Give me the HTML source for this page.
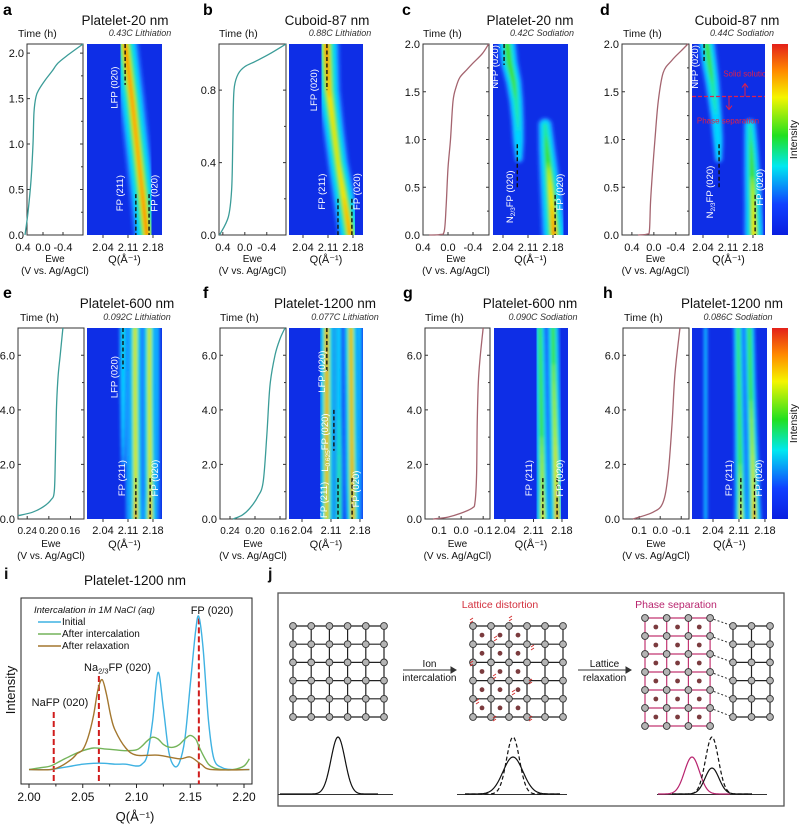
<!DOCTYPE html>
<html><head><meta charset="utf-8"><style>
html,body{margin:0;padding:0;background:#fff;}
svg{display:block;font-family:"Liberation Sans",Arial,sans-serif;}
</style></head><body>
<svg id="fig" width="800" height="824" viewBox="0 0 800 824" xmlns="http://www.w3.org/2000/svg">
<defs>
<filter id="blur" x="-20%" y="-5%" width="140%" height="110%"><feGaussianBlur stdDeviation="1.5"/></filter>
<linearGradient id="jet" x1="0" y1="0" x2="0" y2="1">
<stop offset="0" stop-color="#e3201a"/><stop offset="0.14" stop-color="#ff8a00"/><stop offset="0.28" stop-color="#f5f500"/>
<stop offset="0.48" stop-color="#20e020"/><stop offset="0.64" stop-color="#00e8f0"/><stop offset="0.84" stop-color="#1040ff"/><stop offset="1" stop-color="#0a1ee0"/>
</linearGradient>
</defs>
</svg>
<script>
// ---------- echem data (E in V, t in h) ----------
const aE=[0.36,0.3,0.24,0.2,0.18,0.14,0.08,-0.04,-0.18,-0.3,-0.5,-0.8];
const aT=[0,0.25,0.6,1.0,1.35,1.52,1.6,1.7,1.8,1.89,1.98,2.1];
const bE=[0.46,0.30,0.24,0.22,0.21,0.19,0.12,0.0,-0.2,-0.45,-0.75];
const bT=[0,0.1,0.25,0.5,0.7,0.82,0.89,0.93,0.96,1.0,1.055];
const cE=[0.3,0.13,0.06,0.03,0.0,-0.04,-0.08,-0.13,-0.19,-0.3,-0.4,-0.55,-0.65];
const cT=[0,0.005,0.04,0.3,0.7,1.0,1.4,1.55,1.65,1.73,1.8,1.9,2.0];
const dE=[0.29,0.12,0.08,0.06,0.02,-0.02,-0.08,-0.17,-0.33,-0.5,-0.62];
const dT=[0,0.01,0.05,0.35,0.7,1.0,1.4,1.7,1.83,1.93,2.0];
const eE=[0.257,0.23,0.21,0.196,0.19,0.188,0.186,0.183,0.179,0.174];
const eT=[0.12,0.25,0.45,0.7,1.0,2.2,4.0,5.2,6.0,7.0];
const fE=[0.235,0.22,0.208,0.196,0.187,0.181,0.176,0.168,0.16,0.152];
const fT=[0,0.15,0.4,0.8,1.35,3.1,4.9,6.0,6.6,7.0];
const gE=[0.128,0.06,0.005,-0.05,-0.063,-0.07,-0.073,-0.078,-0.086,-0.1];
const gT=[0,0.07,0.2,0.4,0.62,1.6,3.5,5.0,5.9,7.0];
const hE=[0.13,0.034,-0.013,-0.037,-0.056,-0.07,-0.094];
const hT=[0,0.25,0.6,1.6,3.45,5.3,7.0];
// ---------- heatmap band data (t in h, Q in 1/A, relative amplitude) ----------
const aB1T=[0,0.5,1.0,1.5,2.1], aB1Q=[2.163,2.149,2.135,2.121,2.102], aB1A=[1,0.95,0.93,0.95,1];
const bB1T=[0,0.2,0.4,0.6,0.8,1.0,1.06], bB1Q=[2.172,2.155,2.138,2.125,2.112,2.107,2.106], bB1A=[0.95,0.85,0.72,0.75,0.88,1,1];
const cB1T=[2.0,1.8,1.6,1.4,1.2,1.0,0.8], cB1Q=[2.052,2.058,2.07,2.077,2.081,2.083,2.085], cB1A=[0.6,0.58,0.5,0.4,0.33,0.28,0.14];
const cB2T=[1.15,0.9,0.6,0.3,0], cB2Q=[2.158,2.163,2.17,2.177,2.183], cB2A=[0.35,0.5,0.68,0.85,1];
const dB1T=[2.0,1.8,1.6,1.4,1.2,1.0,0.8], dB1Q=[2.051,2.058,2.066,2.072,2.078,2.082,2.084], dB1A=[0.52,0.5,0.42,0.34,0.28,0.24,0.14];
const dB2T=[1.15,0.9,0.6,0.3,0], dB2Q=[2.172,2.175,2.178,2.181,2.183], dB2A=[0.33,0.46,0.6,0.72,0.85];
const eB1T=[0,1,3,5,7], eB1Q=[2.132,2.132,2.131,2.13,2.13], eB1A=[1,0.85,0.82,0.8,0.8];
const eB2T=[0,1,3,5,7], eB2Q=[2.172,2.172,2.171,2.17,2.17], eB2A=[1,0.85,0.8,0.78,0.78];
const eB3T=[2,4,5.5,7], eB3Q=[2.096,2.096,2.096,2.096], eB3A=[0.1,0.22,0.3,0.32];
const eB4T=[0,7], eB4Q=[2.113,2.113], eB4A=[0.3,0.3];
const eB5T=[0,7], eB5Q=[2.152,2.152], eB5A=[0.32,0.32];
const eB6T=[0,7], eB6Q=[2.19,2.19], eB6A=[0.28,0.28];
const fB1T=[0,1.5,3,5,7], fB1Q=[2.1,2.1,2.1,2.1,2.1], fB1A=[0.9,0.95,1,1,1];
const fB2T=[0,1.5,3,5,7], fB2Q=[2.163,2.161,2.16,2.159,2.158], fB2A=[1,1,0.95,0.95,0.95];
const fB3T=[0,7], fB3Q=[2.118,2.118], fB3A=[0.4,0.4];
const fB4T=[0,2,4,7], fB4Q=[2.13,2.13,2.13,2.13], fB4A=[0.5,0.45,0.3,0.25];
const fB5T=[0,7], fB5Q=[2.178,2.178], fB5A=[0.3,0.3];
const gB1T=[0,1,3,5,7], gB1Q=[2.133,2.132,2.13,2.128,2.126], gB1A=[0.85,0.7,0.6,0.55,0.5];
const gB2T=[0,1,3,5,7], gB2Q=[2.168,2.166,2.163,2.16,2.158], gB2A=[1,0.85,0.7,0.62,0.58];
const hB1T=[0,1,3,5,7], hB1Q=[2.115,2.114,2.112,2.11,2.108], hB1A=[0.8,0.65,0.55,0.5,0.48];
const hB2T=[0,1,3,5,7], hB2Q=[2.151,2.149,2.145,2.141,2.138], hB2A=[1,0.8,0.65,0.58,0.55];
const hB3T=[0,7], hB3Q=[2.02,2.02], hB3A=[0.14,0.14];
// ---------- panel i data ----------
const iQ=[2.00,2.01,2.02,2.03,2.04,2.05,2.06,2.07,2.08,2.09,2.10,2.105,2.11,2.115,2.12,2.125,2.13,2.135,2.14,2.145,2.15,2.155,2.158,2.162,2.167,2.172,2.18,2.19,2.20,2.205];
const iInitial=[8,8,8,9,10,11,11.5,11.5,11,11,10,11,16,35,62,42,18,10,12,25,55,85,93,75,35,14,9,8,8,8];
const iIntercal=[8,9,10,13,16,18.5,20,19.5,19,18.5,19,21,24,26,25,22,20.5,20.5,22,25,27,25,21,16,11,9,8,8,10,14];
const iRelaxQ=[2.00,2.02,2.03,2.04,2.045,2.05,2.055,2.06,2.064,2.068,2.072,2.076,2.08,2.09,2.10,2.12,2.14,2.15,2.16,2.17,2.205];
const iRelax=[8,8,10,14,17,19,26,38,52,58,50,38,30,20,16,16,14,15,11,8,8];
const iRefQ=[2.023,2.065,2.158];
const iRefTop=[40,60,92];
const iXTicks=[2.00,2.05,2.10,2.15,2.20];

const NS='http://www.w3.org/2000/svg';
const svg=document.getElementById('fig');
function E(tag,attrs,parent){const e=document.createElementNS(NS,tag);for(const k in attrs)e.setAttribute(k,attrs[k]);(parent||svg).appendChild(e);return e;}
function T(x,y,s,size,parent,extra){const t=E('text',Object.assign({x:x,y:y,'font-size':size,fill:'#111'},extra||{}),parent);t.textContent=s;return t;}
function smooth(pts){if(pts.length<2)return '';let d='M'+pts[0][0].toFixed(2)+','+pts[0][1].toFixed(2);
 for(let i=0;i<pts.length-1;i++){const p0=pts[i-1]||pts[i],p1=pts[i],p2=pts[i+1],p3=pts[i+2]||p2;
 const c1=[p1[0]+(p2[0]-p0[0])/6,p1[1]+(p2[1]-p0[1])/6],c2=[p2[0]-(p3[0]-p1[0])/6,p2[1]-(p3[1]-p1[1])/6];
 d+=' C'+c1[0].toFixed(2)+','+c1[1].toFixed(2)+' '+c2[0].toFixed(2)+','+c2[1].toFixed(2)+' '+p2[0].toFixed(2)+','+p2[1].toFixed(2);}return d;}

const ROWS=[{y0:44,y1:235,letter:15,title:25,sub:36,tick:251,ewe:262,vs:274},{y0:328,y1:519,letter:298,title:308,sub:320,tick:534,ewe:547,vs:559}];
const LI='#3b9c98', NA='#a4646f';
const PANELS=[
 {k:'a',lx:3,row:0,bx:[27,83],hx:[87,162],title:'Platelet-20 nm',tcx:125,sub:'0.43C Lithiation',scx:140,tmax:2.1,tt:[0,0.5,1,1.5,2],ed:[0.32,-0.8],et:[0.4,0,-0.4],ef:1,fs:11,qx0:103,qs:357,col:LI,E:aE,T:aT,timeX:18,
  bands:[[aB1T,aB1Q,aB1A,21]],dashes:[[2.102,1.65,2.1],[2.132,0,0.45],[2.169,0,0.45]],labels:[['LFP (020)',2.08,1.62],['FP (211)',2.096,0.46],['FP (020)',2.192,0.46]]},
 {k:'b',lx:203,row:0,bx:[219,286],hx:[289,363],title:'Cuboid-87 nm',tcx:327,sub:'0.88C Lithiation',scx:340,tmax:1.055,tt:[0,0.4,0.8],ed:[0.47,-0.75],et:[0.4,0,-0.4],ef:1,fs:11,qx0:303,qs:357,col:LI,E:bE,T:bT,timeX:219,
  bands:[[bB1T,bB1Q,bB1A,20]],dashes:[[2.107,0.8,1.055],[2.138,0,0.2],[2.177,0,0.2]],labels:[['LFP (020)',2.079,0.8],['FP (211)',2.102,0.24],['FP (020)',2.2,0.24]]},
 {k:'c',lx:402,row:0,bx:[423,489],hx:[493,568],title:'Platelet-20 nm',tcx:530,sub:'0.42C Sodiation',scx:542,tmax:2.0,tt:[0,0.5,1,1.5,2],ed:[0.4,-0.656],et:[0.4,0,-0.4],ef:1,fs:11,qx0:503,qs:357,col:NA,E:cE,T:cT,timeX:423,
  bands:[[cB1T,cB1Q,cB1A,19],[cB2T,cB2Q,cB2A,20]],dashes:[[2.043,1.78,2.0],[2.08,0.5,0.95],[2.186,0,0.42]],labels:[['NFP (020)',2.026,1.76],['NA',2.068,0.4],['FP (020)',2.208,0.45]]},
 {k:'d',lx:600,row:0,bx:[622,689],hx:[692,765],title:'Cuboid-87 nm',tcx:737,sub:'0.44C Sodiation',scx:742,tmax:2.0,tt:[0,0.5,1,1.5,2],ed:[0.58,-0.64],et:[0.4,0,-0.4],ef:1,fs:11,qx0:703,qs:357,col:NA,E:dE,T:dT,timeX:623,cbar:true,
  bands:[[dB1T,dB1Q,dB1A,19],[dB2T,dB2Q,dB2A,18]],dashes:[[2.043,1.8,2.0],[2.085,0.5,0.95],[2.186,0,0.42]],labels:[['NFP (020)',2.026,1.76],['NA',2.068,0.45],['FP (020)',2.208,0.5]]},
 {k:'e',lx:3,row:1,bx:[18,84],hx:[87,162],title:'Platelet-600 nm',tcx:127,sub:'0.092C Lithiation',scx:137,tmax:7.0,tt:[0,2,4,6],ed:[0.257,0.135],et:[0.24,0.20,0.16],ef:2,fs:10,qx0:103,qs:357,col:LI,E:eE,T:eT,timeX:20,
  bands:[[eB4T,eB4Q,eB4A,9],[eB5T,eB5Q,eB5A,9],[eB6T,eB6Q,eB6A,9],[eB3T,eB3Q,eB3A,10],[eB1T,eB1Q,eB1A,12],[eB2T,eB2Q,eB2A,12]],dashes:[[2.096,5.5,7],[2.132,0,1.5],[2.172,0,1.5]],labels:[['LFP (020)',2.081,5.2],['FP (211)',2.102,1.5],['FP (020)',2.194,1.5]]},
 {k:'f',lx:203,row:1,bx:[220,286],hx:[289,363],title:'Platelet-1200 nm',tcx:325,sub:'0.077C Lithiation',scx:345,tmax:7.0,tt:[0,2,4,6],ed:[0.256,0.1504],et:[0.24,0.20,0.16],ef:2,fs:10,qx0:302,qs:414,col:LI,E:fE,T:fT,timeX:220,
  bands:[[fB3T,fB3Q,fB3A,9],[fB4T,fB4Q,fB4A,9],[fB5T,fB5Q,fB5A,9],[fB1T,fB1Q,fB1A,12],[fB2T,fB2Q,fB2A,12]],dashes:[[2.1,5.4,7],[2.117,2.5,4.0],[2.127,0,1.5],[2.161,0,1.5]],labels:[['LFP (020)',2.096,5.4],['L',2.103,2.8],['FP (211)',2.1,0.7],['FP (020)',2.178,1.1]]},
 {k:'g',lx:403,row:1,bx:[425,490],hx:[494,568],title:'Platelet-600 nm',tcx:530,sub:'0.090C Sodiation',scx:543,tmax:7.0,tt:[0,2,4,6],ed:[0.164,-0.131],et:[0.1,0,-0.1],ef:1,fs:11,qx0:505,qs:407,col:NA,E:gE,T:gT,timeX:425,
  bands:[[gB1T,gB1Q,gB1A,13],[gB2T,gB2Q,gB2A,13]],dashes:[[2.133,0,1.5],[2.168,0,1.5]],labels:[['FP (211)',2.106,1.5],['FP (020)',2.183,1.5]]},
 {k:'h',lx:603,row:1,bx:[623,689],hx:[692,767],title:'Platelet-1200 nm',tcx:732,sub:'0.086C Sodiation',scx:738,tmax:7.0,tt:[0,2,4,6],ed:[0.177,-0.137],et:[0.1,0,-0.1],ef:1,fs:11,qx0:713,qs:371,col:NA,E:hE,T:hT,timeX:624,cbar:true,
  bands:[[hB3T,hB3Q,hB3A,9],[hB1T,hB1Q,hB1A,12],[hB2T,hB2Q,hB2A,12]],dashes:[[2.115,0,1.5],[2.152,0,1.5]],labels:[['FP (211)',2.091,1.5],['FP (020)',2.172,1.5]]}
];
const LAYERS=[['#1a66ff',0,1.3],['#00d4ff',0.1,0.95],['#22e8a0',0.3,0.62],['#3ce030',0.42,0.48],['#d8f510',0.6,0.3],['#ffe000',0.7,0.22],['#ff7000',0.85,0.12],['#ff1e00',0.92,0.07]];

PANELS.forEach(P=>{
 const R=ROWS[P.row];
 const g=E('g',{});
 
 
 const xE=v=>P.bx[0]+(v-P.ed[0])/(P.ed[1]-P.ed[0])*(P.bx[1]-P.bx[0]);
 const yT=v=>R.y1-v/P.tmax*(R.y1-R.y0);
 const xQ=q=>P.qx0+(q-2.04)*P.qs;
 const let_=T(P.lx,R.letter,P.k,16,g,{'font-weight':'bold',fill:'#000'});
 
 
 const tt=T(P.tcx,R.title,P.title,13.5,g,{'text-anchor':'middle'});
 
 
 const st=T(P.scx,R.sub,P.sub,9,g,{'text-anchor':'middle','font-style':'italic',fill:'#333'});
 
 
 const th=T(P.timeX,R.sub+1,'Time (h)',10.5,g,{});
 
 
 const box=E('rect',{x:P.bx[0],y:R.y0,width:P.bx[1]-P.bx[0],height:R.y1-R.y0,fill:'#fff',stroke:'#333','stroke-width':1},g);
 
 
 P.tt.forEach((v,i)=>{
  const y=yT(v);
  const tk=E('path',{d:'M'+P.bx[0]+','+y+'h3M'+P.bx[1]+','+y+'h-3',stroke:'#333','stroke-width':1},g);
  
  
  if(i<P.tt.length-1){const ym=yT((v+P.tt[i+1])/2);const mk=E('path',{d:'M'+P.bx[1]+','+ym+'h-2',stroke:'#333'},g);}
  const lb=T(P.bx[0]-3,y+4,v.toFixed(1),11,g,{'text-anchor':'end'});
  
  
 });
 P.et.forEach(v=>{
  const x=xE(v);
  if(x>P.bx[0]+1&&x<P.bx[1]-1){const tk=E('path',{d:'M'+x+','+R.y1+'v-3',stroke:'#333'},g);}
  const lb=T(x,R.tick,v.toFixed(P.ef),P.fs,g,{'text-anchor':'middle'});
  
  
 });
 const cx=(P.bx[0]+P.bx[1])/2;
 const ew=T(cx,R.ewe,'Ewe',10,g,{'text-anchor':'middle'});
 
 
 const vs=T(cx,R.vs,'(V vs. Ag/AgCl)',10,g,{'text-anchor':'middle'});
 
 
 const cv=E('path',{d:smooth(P.E.map((e,i)=>[xE(e),yT(P.T[i])])),fill:'none',stroke:P.col,'stroke-width':1.3},g);
 
 
 const cid='clip'+P.k;
 const cp=E('clipPath',{id:cid},svg.querySelector('defs'));
 E('rect',{x:P.hx[0],y:R.y0,width:P.hx[1]-P.hx[0],height:R.y1-R.y0},cp);
 const hg=E('g',{'clip-path':'url(#'+cid+')'},g);
 
 
 const bg=E('rect',{x:P.hx[0],y:R.y0,width:P.hx[1]-P.hx[0],height:R.y1-R.y0,fill:'#0e2ee6'},hg);
 
 
 const bl=E('g',{filter:'url(#blur)'},hg);
 P.bands.forEach(B=>{
  const [ts,qs,as,W]=B;
  const bgrp=E('g',{},bl);
  
  
  LAYERS.forEach(L=>{
   const [col,thr,wf]=L;
   for(let i=0;i<ts.length-1;i++){
    const N=6;
    for(let s=0;s<N;s++){
     const f0=s/N,f1=(s+1)/N;
     const a=as[i]+(as[i+1]-as[i])*(f0+f1)/2;
     if(a<=thr)continue;
     const w=W*wf*Math.sqrt((a-thr)/(1-thr));
     if(w<0.4)continue;
     const q0=qs[i]+(qs[i+1]-qs[i])*f0,q1=qs[i]+(qs[i+1]-qs[i])*f1;
     const t0=ts[i]+(ts[i+1]-ts[i])*f0,t1=ts[i]+(ts[i+1]-ts[i])*f1;
     E('line',{x1:xQ(q0),y1:yT(t0),x2:xQ(q1),y2:yT(t1),stroke:col,'stroke-width':w.toFixed(2),'stroke-linecap':'round'},bgrp);
    }
   }
  });
 });
 P.dashes.forEach(D=>{
  const x=xQ(D[0]);
  const dl=E('line',{x1:x,y1:yT(D[2]),x2:x,y2:yT(D[1]),stroke:'#111','stroke-width':1.4,'stroke-dasharray':'4,2.5'},hg);
  
  
 });
 P.labels.forEach(Lb=>{
  const x=xQ(Lb[1]),y=yT(Lb[2]);
  const t=E('text',{x:x,y:y,'font-size':9.5,fill:'#fff','text-anchor':'middle',transform:'rotate(-90 '+x+' '+y+')'},hg);
  if(Lb[0]==='NA'){t.appendChild(document.createTextNode('N'));const s=E('tspan',{'font-size':6.5,dy:2},t);s.textContent='2/3';const r=E('tspan',{dy:-2},t);r.textContent='FP (020)';}
  else if(Lb[0]==='L'){t.appendChild(document.createTextNode('L'));const s=E('tspan',{'font-size':6.5,dy:2},t);s.textContent='0.625';const r=E('tspan',{dy:-2},t);r.textContent='FP (020)';}
  else t.textContent=Lb[0];
  
  
 });
 [2.04,2.11,2.18].forEach(q=>{
  const x=xQ(q);
  const tk=E('path',{d:'M'+x+','+R.y1+'v3',stroke:'#333'},g);
  
  
  const lb=T(x,R.tick,q.toFixed(2),11,g,{'text-anchor':'middle'});
  
  
 });
 const ql=T((P.hx[0]+P.hx[1])/2,R.ewe+1,'Q(Å⁻¹)',11,g,{'text-anchor':'middle'});
 
 
 if(P.k==='d'){
  const y=yT(1.45);
  const hl=E('line',{x1:P.hx[0],y1:y,x2:P.hx[1],y2:y,stroke:'#e0204a','stroke-width':1.3,'stroke-dasharray':'4,2'},hg);
  
  
  const a1=E('path',{d:'M745,'+y+'V'+(y-12)+'M742,'+(y-9)+'L745,'+(y-13)+'L748,'+(y-9),stroke:'#e0204a',fill:'none','stroke-width':1},hg);
  
  
  const a2=E('path',{d:'M729,'+y+'V'+(y+12)+'M726,'+(y+9)+'L729,'+(y+13)+'L732,'+(y+9),stroke:'#e0204a',fill:'none','stroke-width':1},hg);
  
  
  const s1=T(747,yT(1.66),'Solid solution',8,hg,{'text-anchor':'middle',fill:'#e0204a'});
  
  
  const s2=T(728,yT(1.17),'Phase separation',8,hg,{'text-anchor':'middle',fill:'#e0204a'});
  
  
 }
 if(P.cbar){
  const cb=E('rect',{x:772,y:R.y0,width:16,height:R.y1-R.y0,fill:'url(#jet)'},g);
  
  
  const cy=(R.y0+R.y1)/2;
  const ci=T(797,cy,'Intensity',10.5,g,{'text-anchor':'middle',transform:'rotate(-90 797 '+cy+')'});
  
  
 }
});

// ---------- panel i ----------
(function(){
 const g=E('g',{});
 
 
 const X0=21,X1=252,Y0=598,Y1=784;
 const xq=q=>29+(q-2)*1075;
 const yv=v=>784-v*1.8;
 const l=T(4,579,'i',16,g,{'font-weight':'bold'});
 
 
 const t=T(135,585,'Platelet-1200 nm',13.5,g,{'text-anchor':'middle'});
 
 
 const bx=E('rect',{x:X0,y:Y0,width:X1-X0,height:Y1-Y0,fill:'none',stroke:'#222','stroke-width':1},g);
 
 
 const cp=E('clipPath',{id:'clipi'},svg.querySelector('defs'));
 E('rect',{x:X0,y:Y0,width:X1-X0,height:Y1-Y0},cp);
 const pg=E('g',{'clip-path':'url(#clipi)'},g);
 iRefQ.forEach((q,i)=>{
  const ln=E('line',{x1:xq(q),x2:xq(q),y1:yv(iRefTop[i]),y2:Y1,stroke:'#d01c1c','stroke-width':2,'stroke-dasharray':'6,3'},pg);
  
  
 });
 const s1=E('path',{d:smooth(iQ.map((q,i)=>[xq(q),yv(iInitial[i])])),fill:'none',stroke:'#3fb2e2','stroke-width':1.4},pg);
 
 
 const s2=E('path',{d:smooth(iQ.map((q,i)=>[xq(q),yv(iIntercal[i])])),fill:'none',stroke:'#74b45a','stroke-width':1.4},pg);
 
 
 const s3=E('path',{d:smooth(iRelaxQ.map((q,i)=>[xq(q),yv(iRelax[i])])),fill:'none',stroke:'#a3772e','stroke-width':1.4},pg);
 
 
 iXTicks.forEach(q=>{
  const tk=E('path',{d:'M'+xq(q)+','+Y1+'v4',stroke:'#222'},g);
  
  
  const lb=T(xq(q),801,q.toFixed(2),12,g,{'text-anchor':'middle'});
  
  
 });
 for(let q=2.025;q<2.2;q+=0.05){const mk=E('path',{d:'M'+xq(q)+','+Y1+'v2.5',stroke:'#222'},g);}
 const xt=T(135,821,'Q(Å⁻¹)',13,g,{'text-anchor':'middle'});
 
 
 const yt=T(15,690,'Intensity',13,g,{'text-anchor':'middle',transform:'rotate(-90 15 690)'});
 
 
 const lt=T(34,613,'Intercalation in 1M NaCl (aq)',9.5,g,{'font-style':'italic'});
 
 
 [['Initial','#3fb2e2',625],['After intercalation','#74b45a',637],['After relaxation','#a3772e',649]].forEach(L=>{
  const ln=E('line',{x1:38,x2:61,y1:L[2]-3,y2:L[2]-3,stroke:L[1],'stroke-width':1.5},g);
  
  
  const tx=T(62,L[2],L[0],10,g,{});
  
  
 });
 const f1=T(212,614,'FP (020)',11,g,{'text-anchor':'middle'});
 
 
 const f2=E('text',{x:84,y:671,'font-size':11,fill:'#111'},g);
 f2.appendChild(document.createTextNode('Na'));
 const sb=E('tspan',{'font-size':7.5,dy:2.5},f2);sb.textContent='2/3';
 const rs=E('tspan',{dy:-2.5},f2);rs.textContent='FP (020)';
 
 
 const f3=T(60,706,'NaFP (020)',11,g,{'text-anchor':'middle'});
 
 
})();

// ---------- panel j (schematic) ----------
(function(){
 const g=E('g',{});
 
 
 const l=T(268,579,'j',16,g,{'font-weight':'bold'});
 
 
 const fr=E('rect',{x:278,y:593,width:506,height:213,fill:'none',stroke:'#555','stroke-width':1.3},g);
 
 
 function grid(name,x0,dx,nc,y0,dy,nr,col,dots,dcols,drows){
  const gg=E('g',{},g);
  
  
  for(let r=0;r<nr;r++)E('line',{x1:x0,x2:x0+dx*(nc-1),y1:y0+dy*r,y2:y0+dy*r,stroke:col,'stroke-width':1.2},gg);
  for(let c=0;c<nc;c++)E('line',{x1:x0+dx*c,x2:x0+dx*c,y1:y0,y2:y0+dy*(nr-1),stroke:col,'stroke-width':1.2},gg);
  if(dots)for(let r=0;r<drows;r++)for(let c=0;c<dcols;c++)E('circle',{cx:x0+dx*(c+0.5),cy:y0+dy*(r+0.5),r:2.4,fill:'#7b3b3e'},gg);
  for(let r=0;r<nr;r++)for(let c=0;c<nc;c++)E('circle',{cx:x0+dx*c,cy:y0+dy*r,r:3.4,fill:'#b4b4b4',stroke:'#333','stroke-width':0.9},gg);
  return gg;
 }
 grid('lattice-pristine',293,18.2,6,626,18.2,6,'#222',false);
 const g2=grid('lattice-distorted',473,18,6,626,18.2,6,'#222',true,3,5);
 [[470,622],[509,620],[494,640],[531,649],[470,665],[493,678],[529,683],[512,694],[476,703],[493,720],[529,720]].forEach(p=>{
  const m=E('path',{d:'M'+p[0]+','+(p[1]-2)+'l3,-2M'+p[0]+','+(p[1]+1)+'l3,-2',stroke:'#d02a2a','stroke-width':0.9},g2);
  
  
 });
 for(let r=0;r<6;r++){const d=E('line',{x1:710,y1:618+18*r,x2:733,y2:626+18.2*r,stroke:'#333','stroke-dasharray':'2,2'},g);}
 grid('lattice-na-phase',645,21.7,4,618,18,7,'#c23672',true,3,6);
 grid('lattice-fp-phase',733,18.5,3,626,18.2,6,'#222',false);
 function arrow(x0,x1,y,t1,t2,nm){
  const a=E('path',{d:'M'+x0+','+y+'H'+x1+'M'+(x1-5)+','+(y-3)+'L'+x1+','+y+'L'+(x1-5)+','+(y+3)+'z',stroke:'#333',fill:'#333','stroke-width':1},g);
  
  
  const m=(x0+x1)/2;
  const u=T(m,y-3,t1,10,g,{'text-anchor':'middle'});
  const v=T(m,y+11,t2,10,g,{'text-anchor':'middle'});
 }
 arrow(403,456,670,'Ion','intercalation','ion-intercalation-arrow');
 arrow(578,631,670,'Lattice','relaxation','lattice-relaxation-arrow');
 const h1=T(500,608,'Lattice distortion',10.5,g,{'text-anchor':'middle',fill:'#d3303e'});
 
 
 const h2=T(676,608,'Phase separation',10.5,g,{'text-anchor':'middle',fill:'#b8246e'});
 
 
 function peak(c,h,s,x0,x1,col,dash,nm){
  const pts=[];for(let x=x0;x<=x1;x+=1)pts.push([x,794-h*Math.exp(-((x-c)*(x-c))/(2*s*s))]);
  const p=E('path',{d:'M'+pts.map(p=>p[0]+','+p[1].toFixed(2)).join('L'),fill:'none',stroke:col,'stroke-width':1.2,'stroke-dasharray':dash||'none'},g);
  
  
 }
 [[278,393],[457,567],[657,767]].forEach(b=>{const l=E('line',{x1:b[0],x2:b[1],y1:794.5,y2:794.5,stroke:'#333','stroke-width':1},g);});
 peak(338,57,7,280,378,'#111',null,'profile-pristine');
 peak(513,57,6.5,465,560,'#111','4,2.5','profile-reference');
 peak(513,37,10,465,560,'#111',null,'profile-distorted');
 peak(692,37,7.5,658,730,'#b8246e',null,'profile-na-phase');
 peak(712,57,6.5,672,752,'#111','4,2.5','profile-reference');
 peak(712,26,7,672,752,'#111',null,'profile-fp-phase');
})();
</script>
</body></html>
